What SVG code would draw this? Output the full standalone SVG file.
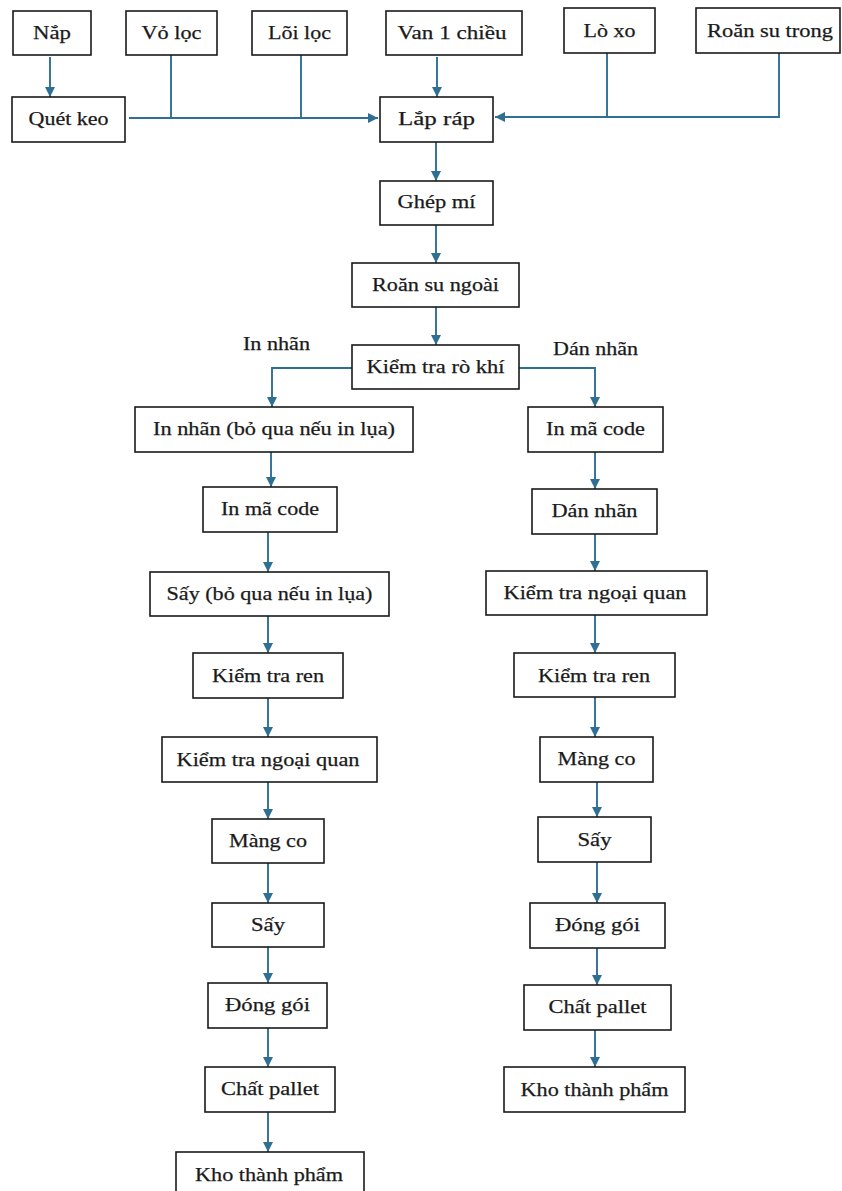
<svg xmlns="http://www.w3.org/2000/svg" width="842" height="1191" viewBox="0 0 842 1191">
  <defs>
    <marker id="arrow" markerUnits="userSpaceOnUse" markerWidth="11" markerHeight="11" refX="10" refY="5" orient="auto">
      <path d="M0,0 L10,5 L0,10 z" fill="#2f6f94"/>
    </marker>
    <style>
      .box rect { fill: #ffffff; stroke: #1a1a1a; stroke-width: 1.6; }
      text { font-family: "Liberation Serif", "Times New Roman", serif; font-size: 19.5px; fill: #1a1a1a; text-anchor: middle; stroke: #1a1a1a; stroke-width: 0.25; }
      .lbl { text-anchor: start; }
      .conn path { fill: none; stroke: #2f6f94; stroke-width: 1.9; }
    </style>
  </defs>
  <rect width="842" height="1191" fill="#ffffff"/>

  <!-- connectors -->
  <g class="conn" id="connectors">
    <path d="M50,57 V97" marker-end="url(#arrow)"/>
    <path d="M129,118 H378" marker-end="url(#arrow)"/>
    <path d="M171,55 V118"/>
    <path d="M301,55 V118"/>
    <path d="M437,57 V97" marker-end="url(#arrow)"/>
    <path d="M779,53 V117 H495" marker-end="url(#arrow)"/>
    <path d="M607,53 V117"/>
    <path d="M436,142 V181" marker-end="url(#arrow)"/>
    <path d="M436,225 V263" marker-end="url(#arrow)"/>
    <path d="M436,307 V345" marker-end="url(#arrow)"/>
    <path d="M352,368 H272 V407" marker-end="url(#arrow)"/>
    <path d="M519,368 H595 V407" marker-end="url(#arrow)"/>
    <!-- left branch -->
    <path d="M271,452 V487" marker-end="url(#arrow)"/>
    <path d="M268,532 V572" marker-end="url(#arrow)"/>
    <path d="M268,616 V653" marker-end="url(#arrow)"/>
    <path d="M268,698 V737" marker-end="url(#arrow)"/>
    <path d="M268,782 V819" marker-end="url(#arrow)"/>
    <path d="M268,863 V903" marker-end="url(#arrow)"/>
    <path d="M268,947 V983" marker-end="url(#arrow)"/>
    <path d="M268,1028 V1067" marker-end="url(#arrow)"/>
    <path d="M268,1112 V1152" marker-end="url(#arrow)"/>
    <!-- right branch -->
    <path d="M595,452 V489" marker-end="url(#arrow)"/>
    <path d="M595,534 V571" marker-end="url(#arrow)"/>
    <path d="M595,615 V653" marker-end="url(#arrow)"/>
    <path d="M595,697 V737" marker-end="url(#arrow)"/>
    <path d="M597,782 V817" marker-end="url(#arrow)"/>
    <path d="M597,862 V903" marker-end="url(#arrow)"/>
    <path d="M597,948 V985" marker-end="url(#arrow)"/>
    <path d="M595,1030 V1067" marker-end="url(#arrow)"/>
  </g>

  <!-- branch labels -->
  <text class="lbl" x="243" y="350" textLength="67" lengthAdjust="spacingAndGlyphs">In nhãn</text>
  <text class="lbl" x="553" y="355" textLength="85" lengthAdjust="spacingAndGlyphs">Dán nhãn</text>

  <!-- inputs -->
  <g class="box" id="nap"><rect x="13" y="11" width="78" height="44"/><text x="52" y="39" textLength="38" lengthAdjust="spacingAndGlyphs">Nắp</text></g>
  <g class="box" id="vo-loc"><rect x="126" y="11" width="91" height="44"/><text x="171.5" y="39" textLength="60" lengthAdjust="spacingAndGlyphs">Vỏ lọc</text></g>
  <g class="box" id="loi-loc"><rect x="252" y="11" width="95" height="44"/><text x="299.5" y="39" textLength="63" lengthAdjust="spacingAndGlyphs">Lõi lọc</text></g>
  <g class="box" id="van-1-chieu"><rect x="386" y="11" width="136" height="44"/><text x="452" y="39" textLength="109" lengthAdjust="spacingAndGlyphs">Van 1 chiều</text></g>
  <g class="box" id="lo-xo"><rect x="564" y="8" width="91" height="45"/><text x="609.5" y="37" textLength="52" lengthAdjust="spacingAndGlyphs">Lò xo</text></g>
  <g class="box" id="roan-su-trong"><rect x="696" y="8" width="144" height="45"/><text x="770" y="37" textLength="126" lengthAdjust="spacingAndGlyphs">Roăn su trong</text></g>

  <!-- main line -->
  <g class="box" id="quet-keo"><rect x="12" y="97" width="113" height="45"/><text x="68.5" y="125" textLength="80" lengthAdjust="spacingAndGlyphs">Quét keo</text></g>
  <g class="box" id="lap-rap"><rect x="380" y="97" width="113" height="45"/><text x="436.5" y="125" textLength="77" lengthAdjust="spacingAndGlyphs">Lắp ráp</text></g>
  <g class="box" id="ghep-mi"><rect x="380" y="181" width="113" height="44"/><text x="436.5" y="208" textLength="78" lengthAdjust="spacingAndGlyphs">Ghép mí</text></g>
  <g class="box" id="roan-su-ngoai"><rect x="352" y="263" width="167" height="44"/><text x="435.5" y="291" textLength="127" lengthAdjust="spacingAndGlyphs">Roăn su ngoài</text></g>
  <g class="box" id="kiem-tra-ro-khi"><rect x="352" y="345" width="167" height="44"/><text x="435.5" y="373" textLength="138" lengthAdjust="spacingAndGlyphs">Kiểm tra rò khí</text></g>

  <!-- printed-label branch -->
  <g class="box" id="l-in-nhan"><rect x="135" y="407" width="278" height="45"/><text x="274" y="435" textLength="242" lengthAdjust="spacingAndGlyphs">In nhãn (bỏ qua nếu in lụa)</text></g>
  <g class="box" id="l-in-ma-code"><rect x="203" y="487" width="134" height="45"/><text x="270" y="515" textLength="98" lengthAdjust="spacingAndGlyphs">In mã code</text></g>
  <g class="box" id="l-say-1"><rect x="150" y="572" width="239" height="44"/><text x="269.5" y="600" textLength="206" lengthAdjust="spacingAndGlyphs">Sấy (bỏ qua nếu in lụa)</text></g>
  <g class="box" id="l-kiem-tra-ren"><rect x="193" y="653" width="150" height="45"/><text x="268" y="682" textLength="112" lengthAdjust="spacingAndGlyphs">Kiểm tra ren</text></g>
  <g class="box" id="l-kiem-tra-ngoai-quan"><rect x="162" y="737" width="215" height="45"/><text x="268" y="766" textLength="183" lengthAdjust="spacingAndGlyphs">Kiểm tra ngoại quan</text></g>
  <g class="box" id="l-mang-co"><rect x="212" y="819" width="112" height="44"/><text x="268" y="847" textLength="78" lengthAdjust="spacingAndGlyphs">Màng co</text></g>
  <g class="box" id="l-say-2"><rect x="212" y="903" width="112" height="44"/><text x="268" y="931" textLength="34" lengthAdjust="spacingAndGlyphs">Sấy</text></g>
  <g class="box" id="l-dong-goi"><rect x="208" y="983" width="119" height="45"/><text x="267.5" y="1011" textLength="85" lengthAdjust="spacingAndGlyphs">Đóng gói</text></g>
  <g class="box" id="l-chat-pallet"><rect x="205" y="1067" width="130" height="45"/><text x="270" y="1095" textLength="98" lengthAdjust="spacingAndGlyphs">Chất pallet</text></g>
  <g class="box" id="l-kho-thanh-pham"><rect x="176" y="1152" width="188" height="46"/><text x="269" y="1181" textLength="148" lengthAdjust="spacingAndGlyphs">Kho thành phẩm</text></g>

  <!-- stuck-label branch -->
  <g class="box" id="r-in-ma-code"><rect x="528" y="407" width="135" height="45"/><text x="595.5" y="435" textLength="99" lengthAdjust="spacingAndGlyphs">In mã code</text></g>
  <g class="box" id="r-dan-nhan"><rect x="532" y="489" width="125" height="45"/><text x="594.5" y="517" textLength="86" lengthAdjust="spacingAndGlyphs">Dán nhãn</text></g>
  <g class="box" id="r-kiem-tra-ngoai-quan"><rect x="486" y="571" width="221" height="44"/><text x="595" y="599" textLength="183" lengthAdjust="spacingAndGlyphs">Kiểm tra ngoại quan</text></g>
  <g class="box" id="r-kiem-tra-ren"><rect x="514" y="653" width="161" height="44"/><text x="594" y="682" textLength="112" lengthAdjust="spacingAndGlyphs">Kiểm tra ren</text></g>
  <g class="box" id="r-mang-co"><rect x="540" y="737" width="113" height="45"/><text x="596.5" y="765" textLength="78" lengthAdjust="spacingAndGlyphs">Màng co</text></g>
  <g class="box" id="r-say"><rect x="538" y="817" width="113" height="45"/><text x="594.5" y="846" textLength="34" lengthAdjust="spacingAndGlyphs">Sấy</text></g>
  <g class="box" id="r-dong-goi"><rect x="530" y="903" width="135" height="45"/><text x="597.5" y="931" textLength="85" lengthAdjust="spacingAndGlyphs">Đóng gói</text></g>
  <g class="box" id="r-chat-pallet"><rect x="524" y="985" width="147" height="45"/><text x="597.5" y="1013" textLength="98" lengthAdjust="spacingAndGlyphs">Chất pallet</text></g>
  <g class="box" id="r-kho-thanh-pham"><rect x="504" y="1067" width="181" height="45"/><text x="594.5" y="1096" textLength="148" lengthAdjust="spacingAndGlyphs">Kho thành phẩm</text></g>
</svg>
